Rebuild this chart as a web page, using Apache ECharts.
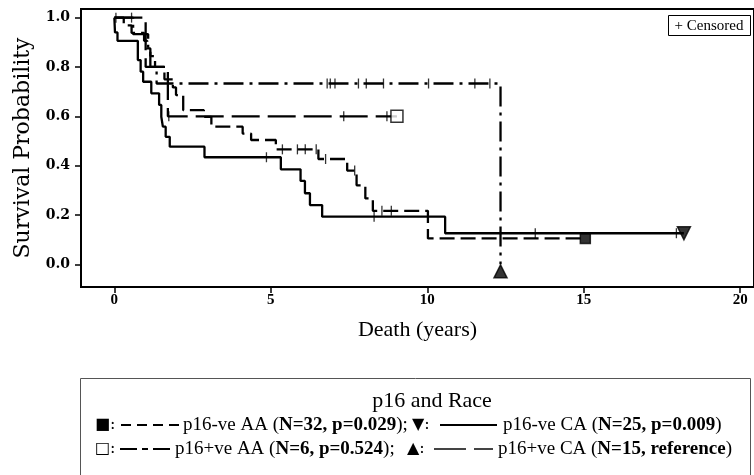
<!DOCTYPE html>
<html>
<head>
<meta charset="utf-8">
<script src="https://cdn.jsdelivr.net/npm/echarts@6/dist/echarts.min.js"></script>
<style>
  html, body { margin: 0; padding: 0; background: #fff; }
  #chart { width: 754px; height: 475px; }
</style>
</head>
<body>
<div id="chart"></div>
<script>
// Kaplan-Meier steps: time (years) and survival from that time on
// p16-ve AA (N=32)
const negAATime = [0, 0.3, 0.55, 0.95, 1.05, 1.15, 1.3, 1.6, 1.87, 1.97, 2.2, 2.86, 3.1, 4.1, 4.37, 5.16, 6.52, 7.44, 7.74, 8.02, 8.26, 10.02, 15.05]
const negAASurv = [1, 0.969, 0.938, 0.906, 0.875, 0.844, 0.8, 0.75, 0.717, 0.686, 0.625, 0.598, 0.558, 0.53, 0.504, 0.466, 0.427, 0.38, 0.32, 0.267, 0.217, 0.105, 0.105]
const negAACensor = [5.37, 5.85, 6.1, 6.45, 6.75, 7.68, 8.55, 8.85]

// p16-ve CA (N=25)
const negCATime = [0, 0.02, 0.1, 0.75, 0.84, 0.92, 1.18, 1.43, 1.5, 1.55, 1.64, 1.77, 2.88, 5.32, 5.95, 6.09, 6.25, 6.64, 10.57, 18.2]
const negCASurv = [1, 0.94, 0.906, 0.828, 0.781, 0.74, 0.693, 0.646, 0.598, 0.558, 0.517, 0.477, 0.434, 0.385, 0.338, 0.288, 0.24, 0.193, 0.126, 0.126]
const negCACensor = [4.86, 8.3, 13.45, 17.96]

// p16+ve AA (N=6)
const posAATime = [0, 1.0, 1.71, 9.03]
const posAASurv = [1, 0.8, 0.6, 0.6]
const posAACensor = [0.05, 1.74, 7.33, 8.71]

// p16+ve CA (N=15)
const posCATime = [0, 0.6, 1.08, 1.15, 1.35, 12.34]
const posCASurv = [1, 0.933, 0.867, 0.8, 0.733, 0]
const posCACensor = [0.55, 6.8, 6.9, 7.05, 7.8, 8.05, 8.6, 10.04, 11.52, 12.0]

const xTicks = [0, 5, 10, 15, 20]
const yTicks = [0, 0.2, 0.4, 0.6, 0.8, 1.0]

const times = "'Liberation Serif', 'Times New Roman', serif"
const dejavu = "'DejaVu Serif', serif"

function survAt(ts, surv, t) {
  let v = surv[0]
  for (let i = 0; i < ts.length; i++) {
    if (ts[i] <= t) v = surv[i]
  }
  return v
}

function pairs(ts, surv) {
  return ts.map((t, i) => [t, surv[i]])
}

const groups = [
  { name: 'p16-ve AA', t: negAATime, s: negAASurv, c: negAACensor, dash: [15, 6],
    end: { symbol: 'rect', size: 10, offset: [0, 0], fill: '#000' } },
  { name: 'p16-ve CA', t: negCATime, s: negCASurv, c: negCACensor, dash: 'solid',
    end: { symbol: 'triangle', size: 13, offset: [0, 0], fill: '#000', rotate: 180 } },
  { name: 'p16+ve AA', t: posAATime, s: posAASurv, c: posAACensor, dash: [28, 8],
    end: { symbol: 'rect', size: 12, offset: [0, 0], fill: '#fff' } },
  { name: 'p16+ve CA', t: posCATime, s: posCASurv, c: posCACensor, dash: [20, 6, 3, 6],
    end: { symbol: 'triangle', size: 13, offset: [0, 7], fill: '#000' } }
]

const series = []
groups.forEach(g => {
  series.push({
    name: g.name,
    type: 'line',
    step: 'end',
    symbol: 'none',
    data: pairs(g.t, g.s),
    lineStyle: { color: '#000', width: 2.3, type: g.dash },
    z: 2
  })
  series.push({
    name: g.name + ' censored',
    type: 'scatter',
    symbol: 'rect',
    symbolSize: [1.3, 10],
    itemStyle: { color: '#000' },
    data: g.c.map(t => [t, survAt(g.t, g.s, t)]),
    z: 3
  })
  const last = g.t.length - 1
  series.push({
    name: g.name + ' end',
    type: 'scatter',
    symbol: g.end.symbol,
    symbolSize: g.end.size,
    symbolRotate: g.end.rotate || 0,
    symbolOffset: g.end.offset,
    itemStyle: { color: g.end.fill, borderColor: '#000', borderWidth: 1.5 },
    data: [[g.t[last], g.s[last]]],
    z: 4
  })
})

function legendText(x, y, plain, bold, tail) {
  return {
    type: 'text', x: x, y: y,
    style: {
      text: '{a|' + plain + '}{b|' + bold + '}{a|' + tail + '}',
      verticalAlign: 'middle', fill: '#000',
      rich: {
        a: { fontFamily: times, fontSize: 19 },
        b: { fontFamily: times, fontSize: 19, fontWeight: 'bold' }
      }
    }
  }
}

function keyText(x, y, str) {
  return { type: 'text', x: x, y: y, style: { text: str, fontFamily: dejavu, fontSize: 16, fill: '#000', verticalAlign: 'middle' } }
}

const chart = echarts.init(document.getElementById('chart'))
chart.setOption({
  animation: false,
  grid: { left: 81, top: 9, right: -3, height: 278, show: true, borderColor: '#000', borderWidth: 2 },
  xAxis: {
    type: 'value',
    min: -1.066,
    max: 20.44,
    name: 'Death (years)',
    nameLocation: 'middle',
    nameGap: 32,
    nameTextStyle: { fontFamily: times, fontSize: 22, color: '#000' },
    axisLine: { show: true, onZero: false, lineStyle: { color: '#000', width: 2 } },
    axisTick: { show: true, length: 6, customValues: xTicks, lineStyle: { color: '#000', width: 1.5 } },
    axisLabel: { customValues: xTicks, margin: 6, fontFamily: times, fontWeight: 'bold', fontSize: 15, color: '#000' },
    splitLine: { show: false }
  },
  yAxis: {
    type: 'value',
    min: -0.092,
    max: 1.035,
    name: 'Survival Probability',
    nameLocation: 'middle',
    nameGap: 43,
    nameTextStyle: { fontFamily: dejavu, fontSize: 22, color: '#000' },
    axisLine: { show: true, onZero: false, lineStyle: { color: '#000', width: 2 } },
    axisTick: { show: true, length: 6, customValues: yTicks, lineStyle: { color: '#000', width: 1.5 } },
    axisLabel: { customValues: yTicks, margin: 11, fontFamily: dejavu, fontWeight: 'bold', fontSize: 14, color: '#000',
      formatter: v => v.toFixed(1) },
    splitLine: { show: false }
  },
  series: series,
  graphic: [
    // censored key
    { type: 'rect', shape: { x: 668.5, y: 15.5, width: 82, height: 20 }, style: { fill: '#fff', stroke: '#000', lineWidth: 1 }, z: 10 },
    { type: 'text', x: 709, y: 26, style: { text: '+ Censored', fontFamily: times, fontSize: 15, fill: '#000', align: 'center', verticalAlign: 'middle' }, z: 11 },
    // legend box
    { type: 'rect', shape: { x: 80.5, y: 378.5, width: 670, height: 110 }, style: { fill: 'none', stroke: '#555', lineWidth: 1 } },
    { type: 'text', x: 432, y: 401, style: { text: 'p16 and Race', fontFamily: times, fontSize: 22, fill: '#000', align: 'center', verticalAlign: 'middle' } },
    // row 1
    keyText(95, 425, '■:'),
    { type: 'line', shape: { x1: 121, y1: 425, x2: 181, y2: 425 }, style: { stroke: '#000', lineWidth: 2, lineDash: [10, 6] } },
    legendText(183, 425, 'p16-ve AA (', 'N=32, p=0.029', ');'),
    keyText(412, 425, '▼:'),
    { type: 'line', shape: { x1: 440, y1: 425, x2: 497, y2: 425 }, style: { stroke: '#000', lineWidth: 2 } },
    legendText(503, 425, 'p16-ve CA (', 'N=25, p=0.009', ')'),
    // row 2
    keyText(95, 449, '□:'),
    { type: 'line', shape: { x1: 120, y1: 449, x2: 170, y2: 449 }, style: { stroke: '#000', lineWidth: 2, lineDash: [17, 5, 6, 5] } },
    legendText(175, 449, 'p16+ve AA (', 'N=6, p=0.524', ');'),
    keyText(407, 449, '▲:'),
    { type: 'line', shape: { x1: 434, y1: 449, x2: 493, y2: 449 }, style: { stroke: '#444', lineWidth: 2, lineDash: [32, 8] } },
    legendText(498, 449, 'p16+ve CA (', 'N=15, reference', ')')
  ]
})
</script>
</body>
</html>
